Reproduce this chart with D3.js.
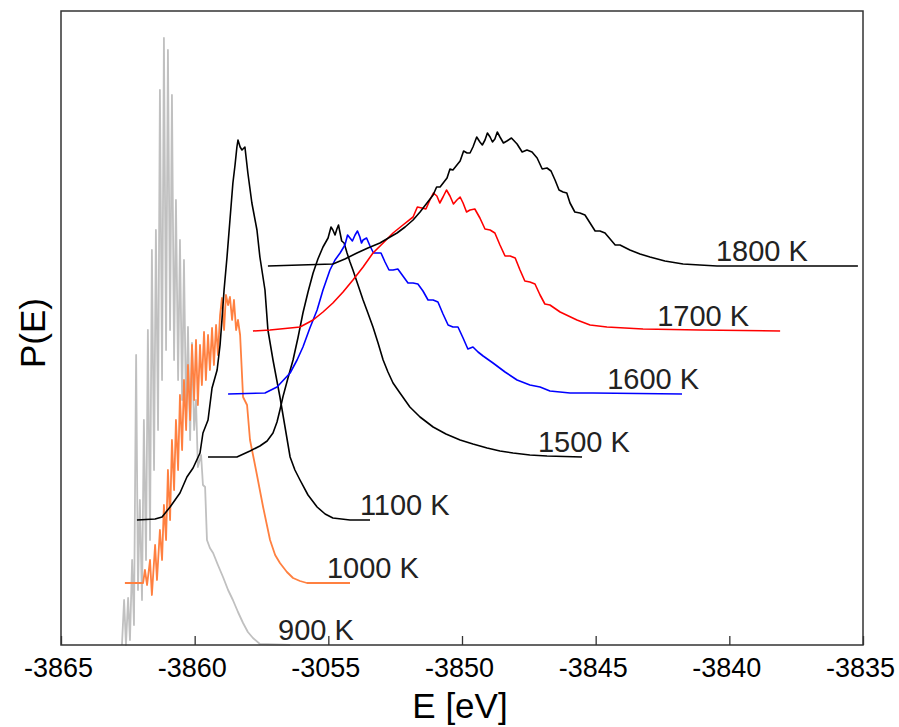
<!DOCTYPE html>
<html>
<head>
<meta charset="utf-8">
<script src="https://cdn.jsdelivr.net/npm/d3@7"></script>
<style>
  body { margin: 0; background: #fff; }
  svg { display: block; }
</style>
</head>
<body>
<svg width="899" height="727"></svg>
<script>
// energy histograms P(E) at several temperatures, [E (eV), P (counts)]

var t900 = [[-3862.72,0],[-3862.64,45],[-3862.57,0],[-3862.49,47],[-3862.42,5],[-3862.34,85],[-3862.27,20],
  [-3862.19,290],[-3862.12,55],[-3862.05,145],[-3861.97,45],[-3861.90,225],[-3861.82,85],[-3861.75,315],
  [-3861.67,105],[-3861.60,395],[-3861.52,175],[-3861.45,415],[-3861.37,215],[-3861.30,555],[-3861.22,265],
  [-3861.15,607],[-3861.07,295],[-3861.00,595],[-3860.92,315],[-3860.85,550],[-3860.77,285],[-3860.70,445],
  [-3860.62,265],[-3860.55,405],[-3860.47,245],[-3860.40,385],[-3860.32,225],[-3860.25,318],[-3860.17,205],
  [-3860.10,302],[-3860.02,215],[-3859.95,245],[-3859.88,178],[-3859.76,190],[-3859.69,160],[-3859.61,158],
  [-3859.54,105],[-3859.43,97],[-3859.31,92],[-3859.13,80],[-3858.94,68],[-3858.75,55],[-3858.57,45],
  [-3858.38,33],[-3858.19,22],[-3858.01,13],[-3857.82,7],[-3857.56,1],[-3856.43,0]];

var t1000 = [[-3862.61,62],[-3861.93,62],[-3861.86,75],[-3861.78,60],[-3861.67,85],[-3861.60,50],[-3861.48,100],
  [-3861.41,65],[-3861.30,115],[-3861.22,85],[-3861.15,140],[-3861.07,105],[-3861.00,175],[-3860.92,125],
  [-3860.85,205],[-3860.77,155],[-3860.70,225],[-3860.62,175],[-3860.55,250],[-3860.47,195],[-3860.40,265],
  [-3860.32,215],[-3860.25,280],[-3860.17,225],[-3860.10,300],[-3860.02,245],[-3859.95,305],[-3859.88,240],
  [-3859.80,300],[-3859.73,260],[-3859.65,313],[-3859.58,265],[-3859.50,310],[-3859.43,275],[-3859.35,317],
  [-3859.28,280],[-3859.20,320],[-3859.13,290],[-3859.05,330],[-3858.98,347],[-3858.90,315],[-3858.83,350],
  [-3858.75,340],[-3858.68,348],[-3858.60,325],[-3858.53,345],[-3858.45,315],[-3858.38,325],[-3858.30,310],
  [-3858.19,248],[-3858.04,240],[-3857.93,205],[-3857.78,185],[-3857.67,170],[-3857.44,138],[-3857.18,105],
  [-3856.99,90],[-3856.81,82],[-3856.55,73],[-3856.32,67],[-3856.06,64],[-3855.80,62],[-3854.19,62]];

var t1100 = [[-3862.16,125],[-3861.48,126],[-3861.22,128],[-3860.92,138],[-3860.55,152],[-3860.29,168],
  [-3860.06,177],[-3859.80,192],[-3859.69,212],[-3859.50,225],[-3859.35,257],[-3859.16,275],[-3859.05,300],
  [-3858.98,325],[-3858.90,355],[-3858.79,388],[-3858.68,425],[-3858.57,462],[-3858.49,480],[-3858.42,498],
  [-3858.38,505],[-3858.30,498],[-3858.23,495],[-3858.12,498],[-3858.01,472],[-3857.86,442],[-3857.67,415],
  [-3857.56,388],[-3857.37,355],[-3857.26,315],[-3857.07,285],[-3856.81,248],[-3856.62,218],[-3856.43,188],
  [-3856.25,175],[-3856.06,165],[-3855.76,150],[-3855.42,138],[-3855.12,131],[-3854.83,127],[-3854.19,125],
  [-3853.44,125]];

var t1500 = [[-3859.50,188],[-3858.42,188],[-3857.93,194],[-3857.56,199],[-3857.29,204],[-3857.07,212],
  [-3856.92,223],[-3856.81,235],[-3856.70,248],[-3856.51,267],[-3856.32,285],[-3856.13,308],[-3855.95,332],
  [-3855.76,353],[-3855.57,372],[-3855.39,386],[-3855.20,398],[-3855.01,407],[-3854.90,418],[-3854.83,415],
  [-3854.75,410],[-3854.68,416],[-3854.62,420],[-3854.56,412],[-3854.50,404],[-3854.41,402],[-3854.30,392],
  [-3854.19,383],[-3854.08,375],[-3853.89,360],[-3853.70,345],[-3853.52,332],[-3853.33,318],[-3853.14,302],
  [-3852.95,285],[-3852.77,273],[-3852.58,262],[-3852.32,252],[-3851.95,238],[-3851.57,228],[-3851.08,218],
  [-3850.60,211],[-3850.07,205],[-3849.59,201],[-3849.06,197],[-3848.58,194],[-3848.09,192],[-3847.46,190],
  [-3846.82,189],[-3845.51,188]];

var t1600 = [[-3858.75,251],[-3857.37,252],[-3856.92,258],[-3856.43,272],[-3856.17,285],[-3855.95,298],
  [-3855.69,317],[-3855.42,335],[-3855.20,355],[-3854.94,375],[-3854.75,385],[-3854.56,392],[-3854.38,400],
  [-3854.28,410],[-3854.19,407],[-3854.10,404],[-3854.00,410],[-3853.91,414],[-3853.82,408],[-3853.76,402],
  [-3853.70,405],[-3853.57,407],[-3853.44,399],[-3853.31,392],[-3853.18,392],[-3853.03,392],[-3852.88,383],
  [-3852.73,375],[-3852.58,375],[-3852.40,376],[-3852.21,369],[-3852.02,362],[-3851.83,362],[-3851.65,361],
  [-3851.46,354],[-3851.27,345],[-3851.08,345],[-3850.90,343],[-3850.71,331],[-3850.52,320],[-3850.34,318],
  [-3850.15,318],[-3849.96,307],[-3849.78,296],[-3849.59,298],[-3849.40,293],[-3849.21,289],[-3848.84,282],
  [-3848.39,273],[-3847.94,265],[-3847.46,260],[-3847.08,258],[-3846.71,254],[-3845.96,252],[-3845.10,252],
  [-3841.77,251]];

var t1700 = [[-3857.82,314],[-3857.18,315],[-3856.43,317],[-3856.06,318],[-3855.57,325],[-3855.20,333],
  [-3854.83,342],[-3854.45,353],[-3854.08,365],[-3853.70,378],[-3853.33,392],[-3852.95,402],[-3852.58,412],
  [-3852.21,420],[-3851.83,428],[-3851.67,438],[-3851.50,437],[-3851.35,436],[-3851.20,445],[-3851.07,452],
  [-3850.94,449],[-3850.83,442],[-3850.71,448],[-3850.58,455],[-3850.45,449],[-3850.32,441],[-3850.19,445],
  [-3850.07,448],[-3849.96,442],[-3849.83,433],[-3849.70,435],[-3849.52,436],[-3849.33,427],[-3849.14,416],
  [-3848.95,415],[-3848.77,412],[-3848.58,400],[-3848.39,389],[-3848.20,389],[-3848.01,387],[-3847.83,375],
  [-3847.65,364],[-3847.46,363],[-3847.27,361],[-3847.08,350],[-3846.90,341],[-3846.71,340],[-3846.33,333],
  [-3845.70,325],[-3845.21,320],[-3844.58,318],[-3843.23,316],[-3841.10,315],[-3838.10,314]];

var t1800 = [[-3857.26,379],[-3856.06,380],[-3854.83,381],[-3854.38,386],[-3853.93,392],[-3853.52,397],
  [-3853.07,402],[-3852.69,408],[-3852.43,412],[-3852.13,418],[-3851.83,425],[-3851.57,433],[-3851.31,442],
  [-3851.08,450],[-3850.95,458],[-3850.82,458],[-3850.56,467],[-3850.45,476],[-3850.34,475],[-3850.07,484],
  [-3849.94,494],[-3849.81,492],[-3849.70,492],[-3849.59,498],[-3849.45,508],[-3849.33,503],[-3849.24,500],
  [-3849.14,505],[-3849.05,512],[-3848.95,508],[-3848.86,503],[-3848.77,506],[-3848.68,513],[-3848.58,508],
  [-3848.45,502],[-3848.32,504],[-3848.15,507],[-3847.94,501],[-3847.75,493],[-3847.57,495],[-3847.38,493],
  [-3847.19,487],[-3847.00,476],[-3846.82,477],[-3846.67,474],[-3846.52,465],[-3846.37,455],[-3846.22,453],
  [-3846.08,452],[-3845.96,442],[-3845.78,433],[-3845.59,432],[-3845.40,430],[-3845.21,422],[-3845.02,414],
  [-3844.84,414],[-3844.65,412],[-3844.46,406],[-3844.27,400],[-3844.09,400],[-3843.72,395],[-3843.34,391],
  [-3842.97,388],[-3842.41,384],[-3841.73,381],[-3841.10,380],[-3840.46,379],[-3838.85,379],[-3835.19,379]];

var seriesNames = ["900 K", "1000 K", "1100 K", "1500 K", "1600 K", "1700 K", "1800 K"];
var seriesData = [t900, t1000, t1100, t1500, t1600, t1700, t1800];
var seriesColors = ["#c0c0c0", "#ff8040", "#000000", "#000000", "#0000ff", "#ff0000", "#000000"];
// where each temperature label starts (eV)
var labelE = [-3856.88, -3855.05, -3853.82, -3847.16, -3844.57, -3842.70, -3840.50];

var tickValues = [-3865, -3860, -3855, -3850, -3845, -3840, -3835];
var tickLabels = ["-3865", "-3860", "-3055", "-3850", "-3845", "-3840", "-3835"];

var svg = d3.select("svg");
var font = "'Liberation Sans', Arial, sans-serif";

var x = d3.scaleLinear().domain([-3865, -3835]).range([61, 863]);
var y = d3.scaleLinear().domain([0, 634]).range([645, 11]);

var line = d3.line()
  .x(d => x(d[0]))
  .y(d => y(d[1]));

// curves
var curves = svg.append("g");
seriesData.forEach(function(s, i) {
  curves.append("path")
    .datum(s)
    .attr("d", line)
    .attr("fill", "none")
    .attr("stroke", seriesColors[i])
    .attr("stroke-width", i < 2 ? 1.8 : 1.6)
    .attr("stroke-linejoin", "round");
});

// temperature labels sit just above the flat tail of each curve
seriesData.forEach(function(s, i) {
  svg.append("text")
    .attr("x", x(labelE[i]))
    .attr("y", y(s[s.length - 1][1]) - 5)
    .attr("font-family", font)
    .attr("font-size", 29)
    .attr("fill", "#222")
    .text(seriesNames[i]);
});

// frame
svg.append("rect")
  .attr("x", x(-3865))
  .attr("y", y(634))
  .attr("width", x(-3835) - x(-3865))
  .attr("height", y(0) - y(634))
  .attr("fill", "none")
  .attr("stroke", "#333")
  .attr("stroke-width", 1.5);

// bottom axis, ticks pointing inward
var xAxis = d3.axisBottom(x)
  .tickValues(tickValues)
  .tickSizeInner(-9)
  .tickSizeOuter(0)
  .tickFormat((d, i) => tickLabels[i]);

var gx = svg.append("g")
  .attr("transform", "translate(0," + y(0) + ")")
  .call(xAxis);
gx.select(".domain").remove();
gx.selectAll(".tick line").attr("stroke", "#333").attr("stroke-width", 1.3);
gx.selectAll(".tick text")
  .attr("font-family", font)
  .attr("font-size", 27)
  .attr("fill", "#000")
  .attr("dy", null)
  .attr("x", -3)
  .attr("y", 32);

// axis titles
svg.append("text")
  .attr("x", 460)
  .attr("y", 718)
  .attr("text-anchor", "middle")
  .attr("font-family", font)
  .attr("font-size", 35)
  .text("E [eV]");

svg.append("text")
  .attr("transform", "translate(45,333) rotate(-90)")
  .attr("text-anchor", "middle")
  .attr("font-family", font)
  .attr("font-size", 35)
  .text("P(E)");
</script>
</body>
</html>
